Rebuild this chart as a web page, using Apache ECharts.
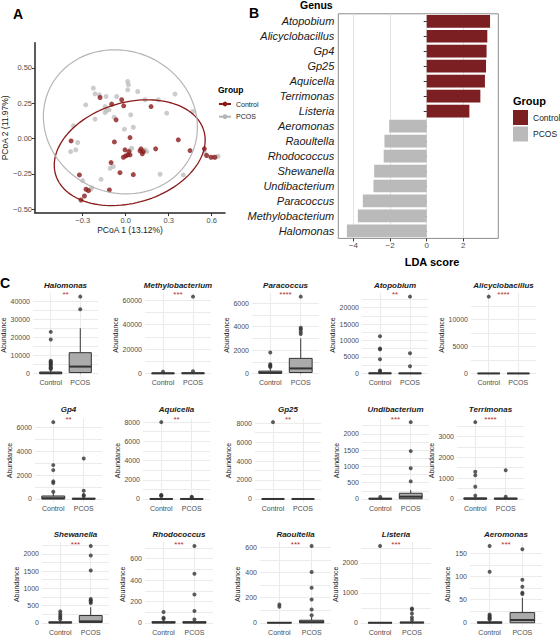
<!DOCTYPE html>
<html>
<head>
<meta charset="utf-8">
<script src="https://cdn.jsdelivr.net/npm/echarts@6/dist/echarts.min.js"></script>
<style>
  html, body { margin: 0; padding: 0; background: #fff; }
  #chart { width: 560px; height: 636px; }
</style>
</head>
<body>
<div id="chart"></div>
<script>
// ---- Panel A: PCoA ----
var pcoaControl = [
  [-0.179, 0.290], [-0.098, 0.243], [-0.028, 0.274], [-0.014, 0.231], [-0.067, 0.132], [0.177, 0.226],
  [-0.381, -0.017], [-0.079, -0.024], [0.030, 0.007], [0.367, -0.009], [0.209, -0.073], [0.107, -0.073],
  [0.123, -0.092], [0.116, -0.108], [0.100, -0.087], [0.023, -0.092], [0.014, -0.116], [0.000, -0.123],
  [0.030, -0.116], [-0.005, -0.080], [-0.016, -0.132], [0.449, -0.085], [0.549, -0.073], [0.565, -0.120],
  [0.595, -0.132], [0.623, -0.132], [0.053, -0.255], [-0.102, -0.170], [-0.040, -0.241], [-0.323, -0.257],
  [-0.260, -0.368], [-0.277, -0.358], [-0.288, -0.406], [-0.312, -0.434], [-0.114, -0.363]
];
var pcoaPcos = [
  [-0.226, 0.356], [-0.214, 0.316], [-0.184, 0.309], [-0.137, 0.297], [-0.279, 0.238], [-0.144, 0.226],
  [-0.133, 0.198], [-0.144, 0.184], [-0.116, 0.203], [-0.214, 0.137], [-0.081, 0.151], [-0.365, 0.090],
  [-0.009, 0.066], [-0.349, -0.080], [-0.384, -0.092], [-0.335, -0.028], [-0.086, -0.198], [-0.109, -0.210],
  [-0.172, -0.288], [-0.237, -0.347], [-0.244, -0.358], [-0.300, -0.297], [0.014, 0.403], [0.019, 0.380],
  [0.084, 0.332], [0.014, 0.344], [0.135, 0.274], [0.228, 0.274], [0.344, 0.314], [0.286, 0.179],
  [0.035, 0.167], [0.053, 0.080], [0.030, -0.080], [0.135, -0.080], [0.147, -0.092], [0.042, -0.068],
  [0.240, -0.252], [0.402, -0.257], [0.553, -0.104], [0.612, -0.132], [0.645, -0.125], [0.468, 0.191],
  [-0.063, 0.297]
];
// ellipse: centre x, centre y, semi-axis a, semi-axis b, angle (deg)
var ellipseControl = [0.028, -0.100, 0.540, 0.354, 17];
var ellipsePcos = [-0.037, 0.118, 0.547, 0.499, -27];
var pcoaXTicks = [-0.3, 0, 0.3, 0.6];
var pcoaYTicks = [-0.5, -0.25, 0, 0.25, 0.5];

// ---- Panel B: LDA ----
var ldaGenus = ['Atopobium', 'Alicyclobacillus', 'Gp4', 'Gp25', 'Aquicella', 'Terrimonas', 'Listeria',
  'Aeromonas', 'Raoultella', 'Rhodococcus', 'Shewanella', 'Undibacterium', 'Paracoccus', 'Methylobacterium', 'Halomonas'];
var ldaControl = [3.46, 3.31, 3.27, 3.24, 3.18, 2.93, 2.33];
var ldaPcos = [-2.05, -2.31, -2.35, -2.87, -2.91, -3.49, -3.76, -4.36];
var ldaTicks = [-4, -2, 0, 2];

// ---- Panel C: boxplots ----
var groups = ['Control', 'PCOS'];
var genera = ['Halomonas', 'Methylobacterium', 'Paracoccus', 'Atopobium', 'Alicyclobacillus',
  'Gp4', 'Aquicella', 'Gp25', 'Undibacterium', 'Terrimonas',
  'Shewanella', 'Rhodococcus', 'Raoultella', 'Listeria', 'Aeromonas'];
var stars = ['**', '***', '****', '**', '****', '**', '**', '**', '***', '****', '***', '***', '***', '***', '***'];
var tickStep = [10000, 20000, 2000, 5000, 5000, 2000, 2000, 2000, 500, 1000, 500, 200, 200, 1000, 50];
// [lower whisker, Q1, median, Q3, upper whisker]
var controlBox = [
  [0, 0, 100, 800, 1900], [0, 0, 50, 400, 900], [0, 20, 60, 200, 420], [0, 0, 20, 150, 400], [0, 0, 0, 10, 30],
  [0, 0, 60, 250, 520], [0, 0, 0, 20, 50], [0, 0, 0, 5, 10], [0, 0, 5, 20, 40], [0, 0, 10, 50, 110],
  [0, 0, 5, 25, 60], [0, 0, 2, 10, 20], [0, 0, 0, 2, 5], [0, 0, 0, 5, 10], [0, 0, 0, 2, 4]
];
var pcosBox = [
  [0, 500, 3800, 11500, 25000], [0, 0, 100, 500, 1100], [0, 80, 430, 1290, 3000], [0, 0, 10, 100, 250], [0, 0, 0, 5, 15],
  [0, 0, 10, 60, 150], [0, 0, 0, 15, 40], [0, 0, 0, 5, 10], [0, 5, 70, 175, 270], [0, 0, 10, 40, 90],
  [0, 10, 40, 210, 450], [0, 0, 2, 10, 20], [0, 0, 5, 20, 45], [0, 0, 5, 20, 45], [0, 0, 6, 22, 54]
];
var controlOut = [
  [23000, 18800, 7000, 6500, 6000, 5400, 4800, 4200, 3500, 2900, 2400],
  [1500], [1800, 780, 700, 620, 560], [11300, 7600, 7300, 4300, 900, 700], [14200],
  [6470, 2850, 2430, 1480, 1340, 600], [8000, 420, 350, 300], [8100], [60], [3680, 1300, 1140, 590, 160],
  [330, 260, 200, 150, 100], [100, 47, 35], [146, 128], [2570], [166, 110, 18, 15, 12, 9, 7]
];
var pcosOut = [
  [42500, 35500], [63000, 1800], [6570, 3910, 3780, 3570, 3370], [23300, 6100, 2200], [],
  [3400, 700, 330, 250], [220, 150], [], [2360, 1470, 945, 540], [1380, 110],
  [2230, 1950, 1520, 690, 650, 610, 570], [720, 460, 265, 110, 30], [613, 405, 280, 186, 106, 60],
  [480, 440, 310, 180, 90], [159, 93, 78, 65, 62]
];

// ---- layout / style ----
var FONT = '"Liberation Sans", Arial, Helvetica, sans-serif';
var red = '#8b1a1a', barRed = '#7b1f23', gray = '#bfbfbf', barGray = '#bababa';
var ink = '#1a1a1a', muted = '#4d4d4d', gridC = '#ebebeb';
var cLeft = [33, 145, 252, 362, 471, 35, 143, 255, 362, 457, 42, 145, 260, 361, 470];
var cWidth = [65, 66, 67, 66, 65, 67, 67, 66, 67, 67, 67, 68, 71, 70, 72];
var cTop = [292.8, 418.3, 542.1];
var cHeight = 84.5;
var cYLab = [7, 119, 228, 337, 445, 12, 118, 228, 339, 433, 18, 125, 240, 340, 452];
var cTitleY = [285.2, 409.5, 534.3];
var cStarY = [294.3, 419.8, 544.5];

function minus(s) { return String(s).replace('-', '\u2212'); }

function ellipsePath(e) {
  var pts = [], th = e[4] * Math.PI / 180;
  for (var i = 0; i <= 120; i++) {
    var t = i / 120 * 2 * Math.PI;
    var u = e[2] * Math.cos(t), v = e[3] * Math.sin(t);
    pts.push([e[0] + u * Math.cos(th) - v * Math.sin(th), e[1] + u * Math.sin(th) + v * Math.cos(th)]);
  }
  return pts;
}

function renderBox(params, api) {
  var x = api.value(0);
  var lo = api.coord([x, api.value(1)]), q1 = api.coord([x, api.value(2)]);
  var md = api.coord([x, api.value(3)]), q3 = api.coord([x, api.value(4)]);
  var hi = api.coord([x, api.value(5)]);
  var w = api.size([1, 0])[0] * 0.75;
  var cx = lo[0];
  var ls = { stroke: '#333', lineWidth: 1 };
  return {
    type: 'group',
    children: [
      { type: 'line', shape: { x1: cx, y1: lo[1], x2: cx, y2: q1[1] }, style: ls },
      { type: 'line', shape: { x1: cx, y1: q3[1], x2: cx, y2: hi[1] }, style: ls },
      { type: 'rect', shape: { x: cx - w / 2, y: q3[1], width: w, height: q1[1] - q3[1] },
        style: { fill: '#ababab', stroke: '#333', lineWidth: 1 } },
      { type: 'line', shape: { x1: cx - w / 2, y1: md[1], x2: cx + w / 2, y2: md[1] },
        style: { stroke: '#333', lineWidth: 2 } }
    ]
  };
}

var grids = [], xAxes = [], yAxes = [], series = [], texts = [];

// Panel A
grids.push({ left: 35, top: 42.7, width: 190, height: 170.3, outerBoundsMode: 'none' });
xAxes.push({
  type: 'value', gridIndex: 0, min: -0.633, max: 0.693,
  axisLine: { show: true, onZero: false, lineStyle: { color: '#262626', width: 1.5 } },
  axisTick: { show: true, length: 3, customValues: pcoaXTicks, lineStyle: { color: '#333' } },
  axisLabel: { customValues: pcoaXTicks, formatter: function (v) { return minus(v.toFixed(1)); },
    fontSize: 7.5, color: muted, margin: 3, fontFamily: FONT },
  splitLine: { show: false },
  name: 'PCoA 1 (13.12%)', nameLocation: 'middle', nameGap: 12,
  nameTextStyle: { fontSize: 8.5, color: ink, fontFamily: FONT }
});
yAxes.push({
  type: 'value', gridIndex: 0, min: -0.526, max: 0.677,
  axisLine: { show: true, onZero: false, lineStyle: { color: '#262626', width: 1.5 } },
  axisTick: { show: true, length: 3, customValues: pcoaYTicks, lineStyle: { color: '#333' } },
  axisLabel: { customValues: pcoaYTicks, formatter: function (v) { return minus(v.toFixed(2)); },
    fontSize: 7.5, color: muted, margin: 3, fontFamily: FONT },
  splitLine: { show: false },
  name: 'PCoA 2 (11.97%)', nameLocation: 'middle', nameGap: 23, nameRotate: 90,
  nameTextStyle: { fontSize: 8.5, color: ink, fontFamily: FONT }
});
series.push({
  type: 'line', name: 'Control', xAxisIndex: 0, yAxisIndex: 0, data: ellipsePath(ellipseControl),
  showSymbol: false, symbol: 'circle', symbolSize: 5, color: red, lineStyle: { color: red, width: 1.3 },
  silent: true, z: 3
});
series.push({
  type: 'line', name: 'PCOS', xAxisIndex: 0, yAxisIndex: 0, data: ellipsePath(ellipsePcos),
  showSymbol: false, symbol: 'circle', symbolSize: 5, color: '#b5b5b5', lineStyle: { color: '#b5b5b5', width: 1.2 },
  silent: true, z: 3
});
series.push({
  type: 'scatter', name: 'PCOS', xAxisIndex: 0, yAxisIndex: 0, data: pcoaPcos,
  symbolSize: 5, itemStyle: { color: gray }, z: 2
});
series.push({
  type: 'scatter', name: 'Control', xAxisIndex: 0, yAxisIndex: 0, data: pcoaControl,
  symbolSize: 5, itemStyle: { color: red }, z: 2
});

// Panel B
grids.push({ left: 338.3, top: 13.8, width: 160, height: 224.6, show: true,
  borderColor: '#8c8c8c', borderWidth: 1, outerBoundsMode: 'none' });
xAxes.push({
  type: 'value', gridIndex: 1, min: -4.83, max: 3.91,
  axisLine: { show: false },
  axisTick: { show: true, length: 3, customValues: ldaTicks, lineStyle: { color: '#333' } },
  axisLabel: { customValues: ldaTicks, formatter: function (v) { return minus(v); },
    fontSize: 8, color: muted, margin: 3, fontFamily: FONT },
  splitLine: { show: true, lineStyle: { color: '#e3e3e3', width: 1 } }
});
yAxes.push({
  type: 'category', gridIndex: 1, data: ldaGenus, inverse: true,
  axisLine: { show: false },
  axisTick: { show: true, length: 3, alignWithLabel: true, lineStyle: { color: '#333' } },
  axisLabel: { fontSize: 11, fontStyle: 'italic', color: ink, margin: 4, fontFamily: FONT },
  splitLine: { show: false }
});
series.push({
  type: 'bar', name: 'Control', xAxisIndex: 1, yAxisIndex: 1, barCategoryGap: '15%',
  data: ldaGenus.map(function (g, i) { return i < ldaControl.length ? ldaControl[i] : '-'; }),
  itemStyle: { color: barRed }
});
series.push({
  type: 'bar', name: 'PCOS', xAxisIndex: 1, yAxisIndex: 1, barCategoryGap: '15%', barGap: '-100%',
  data: ldaGenus.map(function (g, i) { return i >= ldaControl.length ? ldaPcos[i - ldaControl.length] : '-'; }),
  itemStyle: { color: barGray }
});

// Panel C
genera.forEach(function (name, i) {
  var gi = 2 + i, row = Math.floor(i / 5);
  var all = controlBox[i].concat(pcosBox[i], controlOut[i], pcosOut[i]);
  var top = Math.max.apply(null, all);
  var lo = -0.05 * top, hi = 1.05 * top, step = tickStep[i];
  var major = [], lines = [];
  for (var v = 0; v <= hi; v += step) major.push(v);
  for (var m = -step / 2; m <= hi; m += step / 2) if (m >= lo) lines.push(m);

  grids.push({ left: cLeft[i], top: cTop[row], width: cWidth[i], height: cHeight, outerBoundsMode: 'none' });
  xAxes.push({
    type: 'value', gridIndex: gi, min: 0.4, max: 2.6,
    axisLine: { show: false },
    axisTick: { show: false, customValues: [1, 2] },
    axisLabel: { customValues: [1, 2], formatter: function (v) { return groups[Math.round(v) - 1]; },
      fontSize: 7, color: muted, margin: 2, fontFamily: FONT },
    splitLine: { show: true, lineStyle: { color: gridC, width: 1 } }
  });
  yAxes.push({
    type: 'value', gridIndex: gi, min: lo, max: hi,
    axisLine: { show: false },
    axisTick: { show: false, customValues: lines },
    axisLabel: { customValues: major, formatter: function (v) { return String(Math.round(v)); },
      fontSize: 7, color: muted, margin: 3, fontFamily: FONT },
    splitLine: { show: true, lineStyle: { color: gridC, width: 1 } },
    name: 'Abundance', nameLocation: 'middle', nameRotate: 90, nameGap: cLeft[i] - cYLab[i] - 4,
    nameTextStyle: { fontSize: 7, color: ink, fontFamily: FONT }
  });
  series.push({
    type: 'custom', name: name + ' box', xAxisIndex: gi, yAxisIndex: gi,
    renderItem: renderBox, encode: { x: 0, y: [1, 2, 3, 4, 5] },
    data: [[1].concat(controlBox[i]), [2].concat(pcosBox[i])], silent: true, z: 2
  });
  series.push({
    type: 'scatter', name: name + ' outliers', xAxisIndex: gi, yAxisIndex: gi, symbolSize: 4,
    data: controlOut[i].map(function (v) { return [1, v]; }).concat(pcosOut[i].map(function (v) { return [2, v]; })),
    itemStyle: { color: '#333' }, z: 3
  });
  var cx = cLeft[i] + cWidth[i] / 2;
  texts.push({ type: 'text', x: cx, y: cTitleY[row], style: { text: name, fill: ink, font: 'italic bold 8px ' + FONT,
    textAlign: 'center', textVerticalAlign: 'middle' } });
  texts.push({ type: 'text', x: cx, y: cStarY[row], style: { text: stars[i], fill: '#b0322b', font: '8px ' + FONT,
    textAlign: 'center', textVerticalAlign: 'middle' } });
});

// panel letters and other labels
texts.push({ type: 'text', x: 13, y: 13.5, style: { text: 'A', fill: '#000', font: 'bold 14px ' + FONT, textVerticalAlign: 'middle' } });
texts.push({ type: 'text', x: 249, y: 13, style: { text: 'B', fill: '#000', font: 'bold 14px ' + FONT, textVerticalAlign: 'middle' } });
texts.push({ type: 'text', x: 0, y: 282.5, style: { text: 'C', fill: '#000', font: 'bold 14px ' + FONT, textVerticalAlign: 'middle' } });
texts.push({ type: 'text', x: 300, y: 5, style: { text: 'Genus', fill: '#000', font: 'bold 10.5px ' + FONT, textVerticalAlign: 'middle' } });
texts.push({ type: 'text', x: 432, y: 262, style: { text: 'LDA score', fill: '#000', font: 'bold 11px ' + FONT,
  textAlign: 'center', textVerticalAlign: 'middle' } });
texts.push({ type: 'text', x: 218, y: 90, style: { text: 'Group', fill: '#000', font: 'bold 8.5px ' + FONT, textVerticalAlign: 'middle' } });
texts.push({ type: 'text', x: 513, y: 100.5, style: { text: 'Group', fill: '#000', font: 'bold 11px ' + FONT, textVerticalAlign: 'middle' } });

var legendText = function (size) { return { fontSize: size, color: ink, fontFamily: FONT }; };

var chart = echarts.init(document.getElementById('chart'), null, { renderer: 'svg' });
chart.setOption({
  animation: false,
  backgroundColor: '#fff',
  textStyle: { fontFamily: FONT },
  grid: grids,
  xAxis: xAxes,
  yAxis: yAxes,
  legend: [
    { data: [{ name: 'Control', textStyle: legendText(7) }, { name: 'PCOS', textStyle: legendText(7) }],
      left: 218, top: 100, orient: 'vertical', padding: 0, selectedMode: false,
      itemWidth: 12, itemHeight: 6, itemGap: 4.7,
      textStyle: { fontSize: 7, color: ink, lineHeight: 8, fontFamily: FONT } },
    { data: [{ name: 'Control', icon: 'rect', itemStyle: { color: barRed, borderWidth: 0 }, textStyle: legendText(8.5) },
             { name: 'PCOS', icon: 'rect', itemStyle: { color: barGray, borderWidth: 0 }, textStyle: legendText(8.5) }],
      left: 513, top: 110, orient: 'vertical', padding: 0, selectedMode: false,
      itemWidth: 15, itemHeight: 15, itemGap: 1.5,
      textStyle: { fontSize: 8.5, color: ink, fontFamily: FONT } }
  ],
  graphic: texts,
  series: series
});
</script>
</body>
</html>
